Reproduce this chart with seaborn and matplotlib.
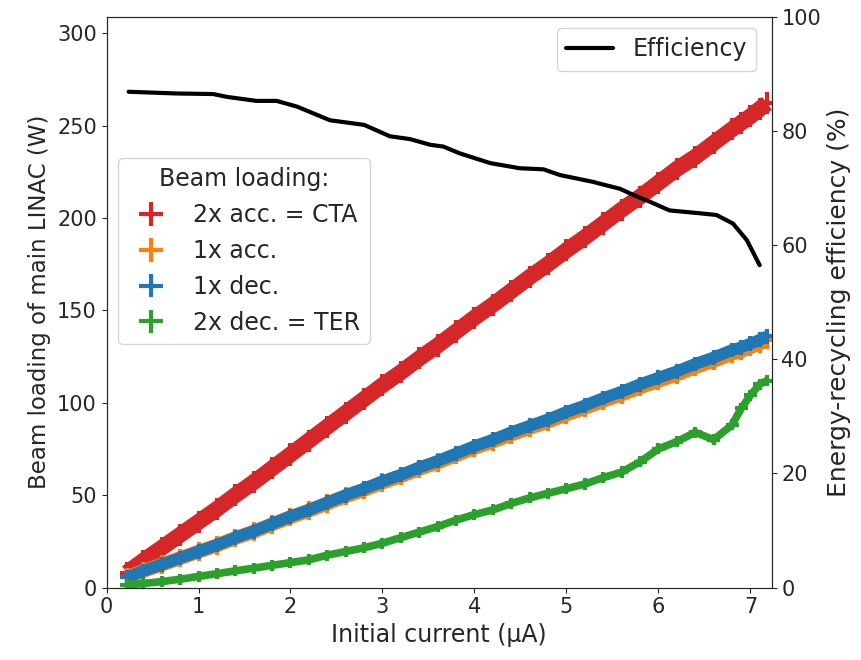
import numpy as np
import pandas as pd
import seaborn as sns
import matplotlib.pyplot as plt

# initial beam current (uA) where the beam loading was read
current = [0.22, 0.4, 0.6, 0.8, 1.0, 1.2, 1.4, 1.6, 1.8, 2.0, 2.2, 2.4, 2.6, 2.8,
           3.0, 3.2, 3.4, 3.6, 3.8, 4.0, 4.2, 4.4, 4.6, 4.8, 5.0, 5.2, 5.4, 5.6,
           5.8, 6.0, 6.2, 6.4, 6.6, 6.8, 6.9, 7.0, 7.1, 7.18]

# beam loading of main LINAC (W)
acc2 = [8, 14.5, 21.5, 28.5, 35.5, 42.5, 50, 57, 64.5, 72, 79.5, 87, 94.5, 102,
        109.5, 116.5, 124, 131, 138.5, 146, 153, 160.5, 168, 175, 182.5, 189.5, 197, 204.5,
        211.5, 219, 226.5, 233, 240.5, 248, 251.5, 255, 259, 262]
acc1 = [5.5, 9, 12.4, 15.9, 19.4, 22.8, 26.8, 30.2, 34.2, 38.1, 41.6, 45.5, 49.4, 52.9,
        56.8, 60.3, 64.2, 67.7, 71.6, 75.6, 79.0, 82.9, 86.4, 89.8, 93.7, 97.2, 101.1, 104.5,
        108.4, 111.9, 115.3, 119.3, 122.7, 126.6, 128.1, 130.1, 132.1, 134.0]
dec1 = [5.5, 9, 12.5, 16, 19.5, 23, 27, 30.5, 34.5, 38.5, 42, 46, 50, 53.5,
        57.5, 61, 65, 68.5, 72.5, 76.5, 80, 84, 87.5, 91, 95, 98.5, 102.5, 106,
        110, 113.5, 117, 121, 124.5, 128.5, 130, 132, 134, 136]
dec2 = [1.5, 2.2, 3.2, 4.5, 6, 7.5, 9, 10.5, 12, 13.5, 15, 17.5, 19.5, 21.5,
        24, 27, 30, 33, 36.5, 39.5, 42, 45.5, 48.5, 51, 53.5, 56, 59.5, 62.5,
        68, 75, 79, 84, 80, 88, 97, 104, 110, 112]

# energy-recycling efficiency (%)
eff_current = [0.24, 0.76, 1.16, 1.31, 1.63, 1.85, 2.07, 2.43, 2.80, 3.08, 3.30, 3.52,
               3.66, 3.84, 4.17, 4.49, 4.75, 4.93, 5.29, 5.36, 5.58, 5.73, 5.91, 6.12,
               6.45, 6.63, 6.81, 6.96, 7.10]
efficiency = [86.9, 86.6, 86.5, 86.0, 85.3, 85.3, 84.3, 81.9, 81.1, 79.1, 78.6, 77.6,
              77.3, 76.1, 74.4, 73.5, 73.3, 72.3, 71.1, 70.8, 69.9, 68.8, 67.6, 66.1,
              65.6, 65.3, 63.8, 60.9, 56.5]

labels = ['2x acc. = CTA', '1x acc.', '1x dec.', '2x dec. = TER']
colors = ['tab:red', 'tab:orange', 'tab:blue', 'tab:green']

sns.set_style('ticks')
plt.rcParams['font.family'] = ['DejaVu Sans']
plt.rcParams['xtick.labelsize'] = 15
plt.rcParams['ytick.labelsize'] = 15
plt.rcParams['axes.labelsize'] = 17

fig = plt.figure(figsize=(8.61, 6.6), dpi=100)
ax = fig.add_axes([0.1237, 0.1098, 0.7725, 0.8644])

df = pd.DataFrame({'current': current})
series = [acc2, acc1, dec1, dec2]
band_width = [11.5, 10.0, 8.5, 5.5]
yerr = [6.0, 5.0, 4.0, 3.0]

handles = []
for vals, lab, col, lw, ye in zip(series, labels, colors, band_width, yerr):
    df[lab] = vals
    sns.lineplot(data=df, x='current', y=lab, color=col, linewidth=lw, ax=ax,
                 solid_capstyle='butt', legend=False)
    h = ax.errorbar(df['current'], df[lab], xerr=0.07, yerr=ye, fmt='none',
                    ecolor=col, elinewidth=3, label=lab)
    handles.append(h)
if ax.get_legend() is not None:
    ax.get_legend().remove()

ax.set_xlim(0, 7.23)
ax.set_ylim(0, 308.7)
ax.set_yticks([0, 50, 100, 150, 200, 250, 300])
ax.set_xticks(range(8))
ax.set_xlabel('Initial current (μA)')
ax.set_ylabel('Beam loading of main LINAC (W)', fontsize=16.5)

ax2 = ax.twinx()
eff = pd.DataFrame({'current': eff_current, 'efficiency': efficiency})
sns.lineplot(data=eff, x='current', y='efficiency', color='black', linewidth=3,
             ax=ax2, label='Efficiency')
ax2.set_ylim(0, 100)
ax2.set_ylabel('Energy-recycling efficiency (%)', fontsize=18)

leg_eff = ax2.legend(loc='upper right', bbox_to_anchor=(0.977, 0.981), borderaxespad=0,
                     fontsize=17)
ax2.add_artist(leg_eff)
ax2.legend(handles=handles, labels=labels, title='Beam loading:', loc='upper left',
           bbox_to_anchor=(0.017, 0.753), borderaxespad=0, fontsize=17, title_fontsize=17)

plt.savefig('out.png', dpi=100)
